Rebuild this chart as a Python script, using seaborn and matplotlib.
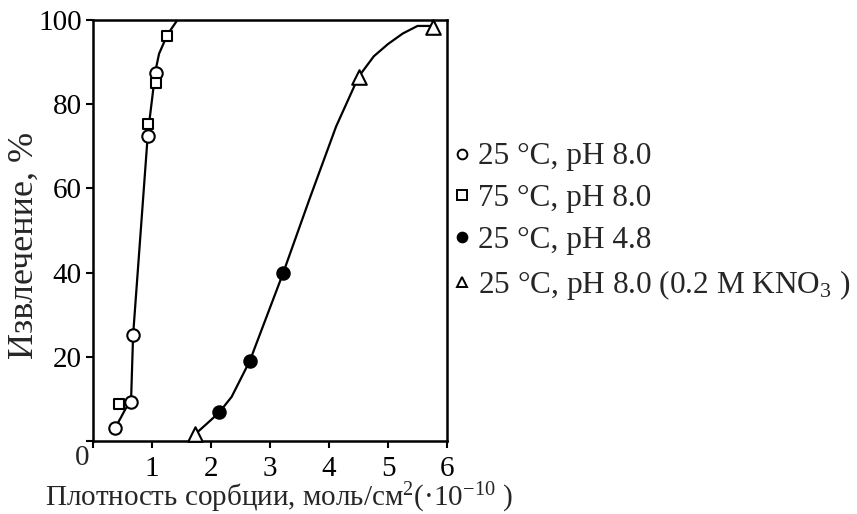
import matplotlib
matplotlib.use("Agg")
import matplotlib.pyplot as plt
from matplotlib.lines import Line2D
import seaborn as sns
import pandas as pd

# ---- data ----
open_circle_x = [0.37, 0.645, 0.68, 0.93, 1.06]
open_circle_y = [3.0, 9.3, 25.2, 72.4, 87.5]

square_x = [0.44, 0.93, 1.07, 1.26]
square_y = [8.8, 75.2, 85.0, 96.3]

filled_circle_x = [2.14, 2.66, 3.22]
filled_circle_y = [6.8, 19.1, 39.8]

triangle_x = [1.73, 4.50, 5.77]
triangle_y = [1.6, 86.5, 98.4]

curve1_x = [0.37, 0.47, 0.55, 0.645, 0.68, 0.93, 1.06, 1.12, 1.26, 1.43]
curve1_y = [3.0, 5.5, 7.6, 9.5, 25.2, 73.0, 88.0, 92.0, 96.5, 100.0]

curve2_x = [1.73, 2.00, 2.14, 2.35, 2.66, 3.22, 3.67, 4.12, 4.50, 4.76, 5.00, 5.25, 5.50, 5.77]
curve2_y = [1.6, 5.0, 6.8, 10.5, 19.1, 39.8, 57.5, 74.7, 86.5, 91.4, 94.3, 96.8, 98.6, 98.6]

legend_labels = ["25 °C, pH 8.0", "75 °C, pH 8.0", "25 °C, pH 4.8",
                 "25 °C, pH 8.0 (0.2 M KNO$_3$ )"]
x_ticks = [1, 2, 3, 4, 5, 6]
y_ticks = [20, 40, 60, 80, 100]

# ---- style ----
sns.set_style("white")
plt.rcParams['font.family'] = ['Liberation Serif', 'DejaVu Serif']
plt.rcParams['mathtext.fontset'] = 'custom'
plt.rcParams['mathtext.rm'] = 'Liberation Serif'
plt.rcParams['mathtext.it'] = 'Liberation Serif:italic'
plt.rcParams['mathtext.bf'] = 'Liberation Serif:bold'

fig = plt.figure(figsize=(8.57, 5.14), dpi=100)
ax = fig.add_axes([0.1085, 0.142, 0.4131, 0.819])

c1 = pd.DataFrame({"x": curve1_x, "y": curve1_y})
c2 = pd.DataFrame({"x": curve2_x, "y": curve2_y})
sns.lineplot(data=c1, x="x", y="y", sort=False, color="black", lw=1.6, ax=ax, zorder=2)
sns.lineplot(data=c2, x="x", y="y", sort=False, color="black", lw=1.6, ax=ax, zorder=2)

sns.scatterplot(x=open_circle_x, y=open_circle_y, marker="o", s=80, facecolor="white",
                edgecolor="black", linewidth=1.5, ax=ax, zorder=3)
sns.scatterplot(x=square_x, y=square_y, marker="s", s=60, facecolor="white",
                edgecolor="black", linewidth=1.5, ax=ax, zorder=3)
sns.scatterplot(x=filled_circle_x, y=filled_circle_y, marker="o", s=80, facecolor="black",
                edgecolor="black", linewidth=1.5, ax=ax, zorder=3)
sns.scatterplot(x=triangle_x, y=triangle_y, marker="^", s=110, facecolor="white",
                edgecolor="black", linewidth=1.5, ax=ax, zorder=3, clip_on=False)

ax.set_xlim(0, 6)
ax.set_ylim(0, 100)
ax.set_xticks([0] + x_ticks)
ax.set_xticklabels([""] + [str(t) for t in x_ticks])
ax.set_yticks([0] + y_ticks)
ax.set_yticklabels([""] + [str(t) for t in y_ticks])
ax.tick_params(direction="out", length=5, width=1.5, labelsize=21, colors="black",
               left=True, bottom=True)
ax.tick_params(axis="y", pad=3)
ax.tick_params(axis="x", pad=6)
for s in ax.spines.values():
    s.set_linewidth(1.8)
    s.set_color("black")
ax.text(-0.031, -0.04, "0", transform=ax.transAxes, ha="center", va="center", fontsize=21)

ax.set_xlabel("Плотность сорбции, моль/см$^2$(·10$^{-10}$ )", fontsize=21)
ax.xaxis.set_label_coords(0.524, -0.094)
ax.xaxis.label.set_va("top")
ax.set_ylabel("Извлечение, %", fontsize=26)
ax.yaxis.set_label_coords(-0.147, 0.464)

handles = [
    Line2D([], [], ls="", marker="o", ms=7, mfc="white", mec="black", mew=1.4),
    Line2D([], [], ls="", marker="s", ms=6.5, mfc="white", mec="black", mew=1.4),
    Line2D([], [], ls="", marker="o", ms=7, mfc="black", mec="black", mew=1.4),
    Line2D([], [], ls="", marker="^", ms=7, mfc="white", mec="black", mew=1.4),
]
fig.legend(handles, legend_labels, loc="upper left", bbox_to_anchor=(0.528, 0.7228),
           frameon=False, fontsize=22.5, handlelength=0.6, handletextpad=0.22,
           labelspacing=0.41, borderaxespad=0, borderpad=0)

fig.savefig("out.png", dpi=100)
